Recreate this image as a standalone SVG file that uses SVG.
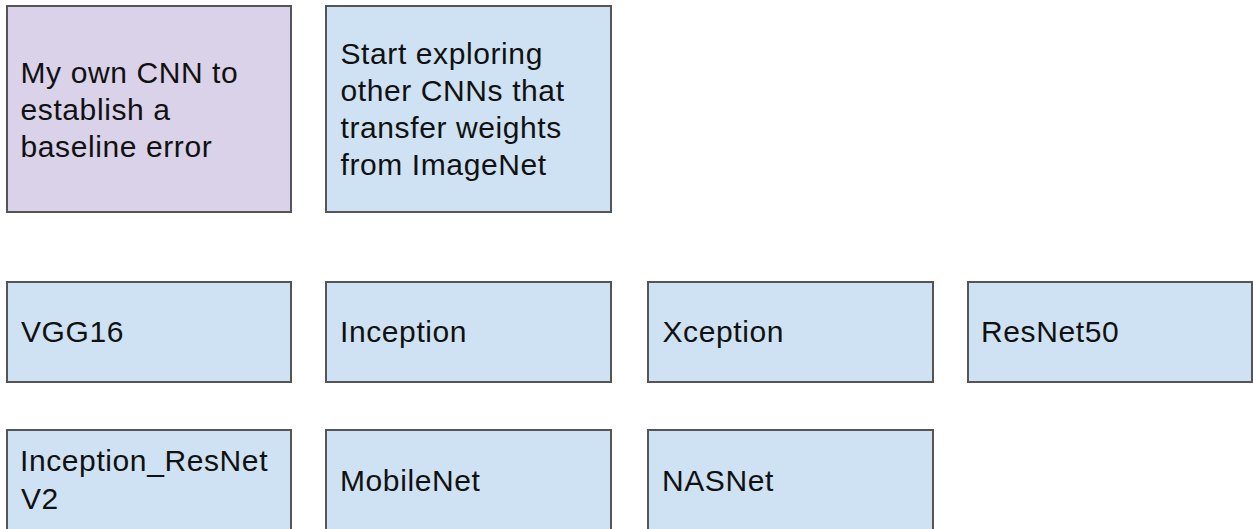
<svg xmlns="http://www.w3.org/2000/svg" width="1253" height="529" viewBox="0 0 1253 529">
  <style>
    .box { stroke: #555555; stroke-width: 2; }
    .purple { fill: #d9d2e9; }
    .blue { fill: #cfe2f3; }
    .label { font-family: "Liberation Sans", Arial, sans-serif; font-size: 30px; letter-spacing: 0.6px; fill: #111111; }
  </style>
  <rect width="1253" height="529" fill="#ffffff"/>

  <!-- top row -->
  <g id="own-cnn">
    <rect class="box purple" x="7" y="6" width="284" height="206"/>
    <text class="label" x="20.5" y="83">My own CNN to</text>
    <text class="label" x="20.5" y="120">establish a</text>
    <text class="label" x="20.5" y="157">baseline error</text>
  </g>
  <g id="explore">
    <rect class="box blue" x="326" y="6" width="285" height="206"/>
    <text class="label" x="340.5" y="64">Start exploring</text>
    <text class="label" x="340.5" y="101">other CNNs that</text>
    <text class="label" x="340.5" y="138">transfer weights</text>
    <text class="label" x="340.5" y="175">from ImageNet</text>
  </g>

  <!-- second row -->
  <g id="vgg16">
    <rect class="box blue" x="7" y="282" width="284" height="100"/>
    <text class="label" x="21" y="342">VGG16</text>
  </g>
  <g id="inception">
    <rect class="box blue" x="326" y="282" width="285" height="100"/>
    <text class="label" x="340" y="342">Inception</text>
  </g>
  <g id="xception">
    <rect class="box blue" x="648" y="282" width="285" height="100"/>
    <text class="label" x="662.5" y="342">Xception</text>
  </g>
  <g id="resnet50">
    <rect class="box blue" x="968" y="282" width="284" height="100"/>
    <text class="label" x="981" y="342">ResNet50</text>
  </g>

  <!-- third row -->
  <g id="inception-resnet">
    <rect class="box blue" x="7" y="430" width="284" height="100"/>
    <text class="label" x="20" y="471">Inception_ResNet</text>
    <text class="label" x="21" y="509">V2</text>
  </g>
  <g id="mobilenet">
    <rect class="box blue" x="326" y="430" width="285" height="100"/>
    <text class="label" x="340" y="491">MobileNet</text>
  </g>
  <g id="nasnet">
    <rect class="box blue" x="648" y="430" width="285" height="100"/>
    <text class="label" x="662" y="491">NASNet</text>
  </g>

  <!-- no connectors are drawn between the boxes -->
  <g id="connectors"/>
</svg>
